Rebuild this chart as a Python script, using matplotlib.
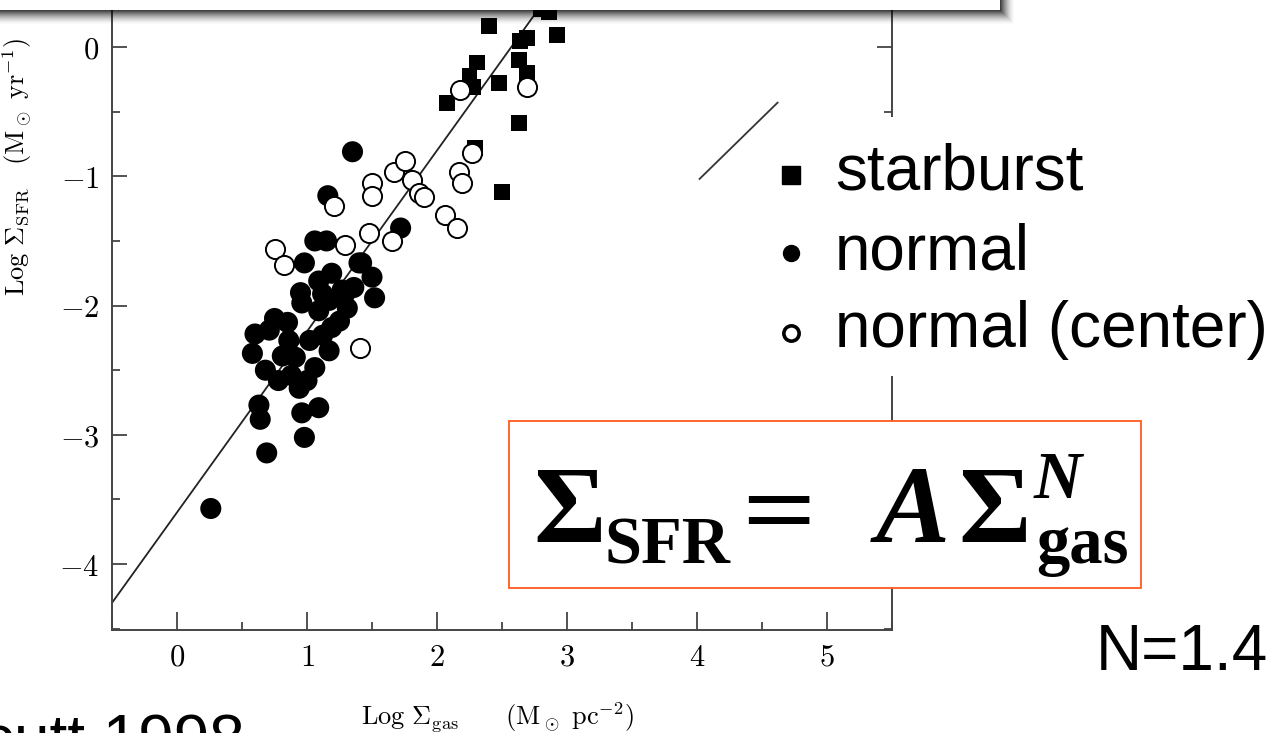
import numpy as np
import matplotlib.pyplot as plt

plt.rcParams['mathtext.fontset'] = 'cm'

# Kennicutt (1998) star formation law
# normal disks (filled circles)
normal_x = [0.26, 0.69, 0.98, 0.63, 0.64, 0.96, 1.09, 1.52, 1.35, 1.16, 1.72, 1.42,
            1.50, 0.75, 0.60, 0.58, 0.68, 0.78, 0.94, 1.06, 1.17, 1.19, 1.25, 1.09,
            0.96, 0.86, 0.91, 1.02, 1.29, 1.12, 0.95, 1.06, 0.98, 1.09, 1.19, 1.27,
            1.40, 1.36, 1.17, 1.15, 0.81, 1.12, 0.88, 1.00, 0.71, 0.85, 1.31]
normal_y = [-3.57, -3.14, -3.02, -2.77, -2.88, -2.83, -2.79, -1.94, -0.81, -1.15, -1.40, -1.67,
            -1.78, -2.10, -2.22, -2.37, -2.50, -2.58, -2.64, -2.48, -2.35, -2.17, -2.12, -2.04,
            -1.98, -2.27, -2.40, -2.27, -1.91, -1.91, -1.90, -1.50, -1.67, -1.81, -1.75, -1.88,
            -1.67, -1.86, -1.96, -1.50, -2.39, -2.23, -2.54, -2.58, -2.19, -2.13, -2.02]

# centres of normal disks (open circles)
center_x = [1.41, 1.21, 1.50, 1.50, 1.67, 1.75, 1.81, 1.86, 1.90, 1.48, 1.65,
            1.29, 0.75, 0.82, 2.18, 2.69, 2.27, 2.17, 2.19, 2.06, 2.15]
center_y = [-2.33, -1.23, -1.05, -1.15, -0.97, -0.88, -1.03, -1.13, -1.16, -1.44, -1.50,
            -1.53, -1.56, -1.69, -0.33, -0.31, -0.82, -0.97, -1.05, -1.30, -1.40]

# starbursts (filled squares)
starburst_x = [2.40, 2.64, 2.86, 2.80, 2.92, 2.31, 2.25, 2.28, 2.08, 2.48, 2.63,
               2.69, 2.63, 2.29, 2.50, 2.69]
starburst_y = [0.16, 0.05, 0.27, 0.29, 0.09, -0.12, -0.22, -0.31, -0.43, -0.28, -0.10,
               -0.20, -0.59, -0.78, -1.12, 0.07]

# fit: log SFR = 1.4 log gas - 3.6
fit_slope = 1.4
fit_intercept = -3.6
fit_x = np.array([-0.5, 3.4])

# stray segment left in the scan
seg_x = [4.02, 4.62]
seg_y = [-1.02, -0.43]

x_ticks = [0, 1, 2, 3, 4, 5]
y_ticks = [-4, -3, -2, -1, 0]
legend_labels = ['starburst', 'normal', 'normal (center)']

W, H = 1285, 733
fig = plt.figure(figsize=(W / 100, H / 100), dpi=100)
ax = fig.add_axes([112 / W, 1 - 630 / H, (892 - 112) / W, 630 / H])

ax.scatter(normal_x, normal_y, s=230, c='black', edgecolors='none', zorder=3)
ax.scatter(starburst_x, starburst_y, s=130, c='black', marker='s', edgecolors='none', zorder=3)
ax.scatter(center_x, center_y, s=190, facecolors='white', edgecolors='black',
           linewidths=1.4, zorder=4)
ax.plot(fit_x, fit_slope * fit_x + fit_intercept, color='#222222', lw=1.3, zorder=2)
ax.plot(seg_x, seg_y, color='#333333', lw=1.3)

ax.set_xlim(-0.48, 5.5)
ax.set_ylim(-4.51, 0.364)
ax.set_xticks(x_ticks)
ax.set_xticklabels([f'${t}$' for t in x_ticks])
ax.set_yticks(y_ticks)
ax.set_yticklabels([f'${t}$' for t in y_ticks])
ax.set_xticks(np.arange(-0.5, 5.6, 0.5), minor=True)
ax.set_yticks(np.arange(-4.5, 0.4, 0.5), minor=True)
ax.tick_params(which='both', direction='in', right=True, top=False, color='#444444', width=1.3)
ax.tick_params(axis='x', which='major', length=13, labelsize=22, pad=9)
ax.tick_params(axis='y', which='major', length=11, labelsize=22, pad=9)
ax.tick_params(which='minor', length=5.5)
ax.spines['top'].set_visible(False)
for s in ['left', 'right', 'bottom']:
    ax.spines[s].set_color('#444444')
    ax.spines[s].set_linewidth(1.4)

ax.set_xlabel(r'$\mathrm{Log}\ \Sigma_{\rm gas}\qquad (\mathrm{M}_\odot\ \mathrm{pc}^{-2})$', fontsize=19)
ax.xaxis.set_label_coords((497 - 112) / 780, (630 - 700) / 630)
ax.set_ylabel(r'$\mathrm{Log}\ \Sigma_{\rm SFR}\quad (\mathrm{M}_\odot\ \mathrm{yr}^{-1})$', fontsize=19)
ax.yaxis.set_label_coords((34 - 112) / 780, (630 - 167) / 630)

# slide overlay in pixel space
ov = fig.add_axes([0, 0, 1, 1])

# white box at top with its drop shadow
sh_w, sh_h = 1018, 27
box_r, box_b = 1000, 10
yy, xx = np.mgrid[0:sh_h, 0:sh_w] + 0.5
d = np.maximum(np.maximum(xx - box_r, 0), np.maximum(yy - box_b, 0))
rgba = np.zeros((sh_h, sh_w, 4))
rgba[..., 3] = np.clip(1 - d / 15, 0, 1) ** 1.6 * 0.8
inside = (xx < box_r) & (yy < box_b)
rgba[inside] = [1, 1, 1, 1]
ov.imshow(rgba, extent=[0, sh_w, sh_h, 0], interpolation='bilinear', aspect='auto')

# legend text block
ov.add_patch(plt.Rectangle((780, 117), W - 780, 259, facecolor='white', edgecolor='none'))
ov.plot(791, 175, marker='s', ms=12.5, color='black')
ov.plot(791, 253, marker='o', ms=11.5, color='black')
ov.plot(791, 333, marker='o', ms=11, markerfacecolor='white', markeredgecolor='black', mew=2.6)
for lab, yb in zip(legend_labels, [190, 269, 347]):
    ov.text(835, yb, lab, fontsize=46, family='Liberation Sans', va='baseline', ha='left')

# equation box, built from pieces to match the slide's sizes
ov.add_patch(plt.Rectangle((509, 421), 632, 167, facecolor='white', edgecolor='#ff5a1f', lw=1.3))
serif = 'Liberation Serif'
ov.text(533, 542, '\u03a3', fontsize=80, family=serif, weight='bold', va='baseline')
ov.text(604, 563, 'SFR', fontsize=48, family=serif, weight='bold', va='baseline')
ov.text(770, 535, r'$=$', fontsize=74, math_fontfamily='stix', ha='center', va='baseline')
ov.text(876, 542, 'A', fontsize=80, family=serif, weight='bold', style='italic', va='baseline')
ov.text(958, 542, '\u03a3', fontsize=80, family=serif, weight='bold', va='baseline')
ov.text(1034, 498, 'N', fontsize=48, family=serif, weight='bold', style='italic', va='baseline')
ov.text(1036, 563, 'gas', fontsize=48, family=serif, weight='bold', va='baseline')

ov.text(1268, 670, 'N=1.4', fontsize=46, family='Liberation Sans', ha='right', va='baseline')
ov.text(245, 759, 'Kennicutt 1998', fontsize=46, family='Liberation Sans', ha='right', va='baseline')

ov.set_xlim(0, W)
ov.set_ylim(H, 0)
ov.axis('off')

fig.savefig('out.png', dpi=100)
